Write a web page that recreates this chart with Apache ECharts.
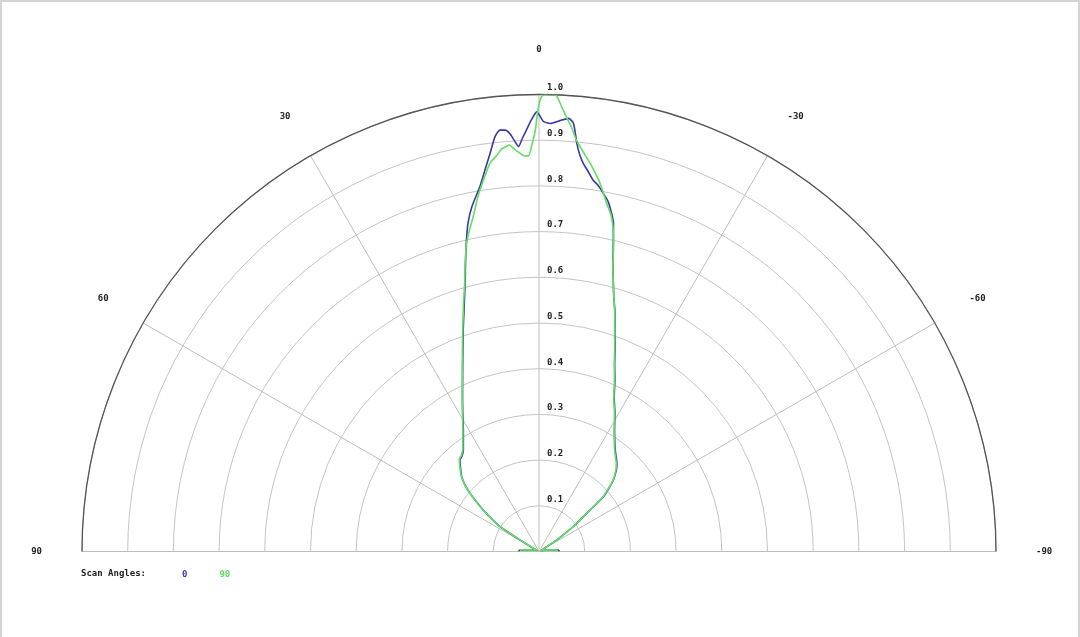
<!DOCTYPE html>
<html>
<head>
<meta charset="utf-8">
<script src="https://cdn.jsdelivr.net/npm/echarts@6/dist/echarts.min.js"></script>
<style>
  html, body { margin: 0; padding: 0; background: #fff; }
  #main { width: 1076px; height: 635px; border: 2px solid #d4d4d4; border-bottom: none; }
</style>
</head>
<body>
<div id="main"></div>
<script>
// scan angle 0 (blue) - angle in degrees (left positive), radius normalised
var angle0 = [-90, -86, -80, -72, -62, -60, -57, -54, -51.3, -49.6, -46.1, -42.5, -40.9, -38.5, -36, -32, -28.8, -26, -23.9, -22, -20.4, -19, -17.7, -16.4, -15.3, -14.4, -13.7, -12.8, -12.1, -11.2, -10.2, -9.3, -8.3, -7.4, -6.5, -5.8, -5.3, -4.6, -3.9, -2.8, -1.5, -0.6, 0.3, 1.0, 1.7, 2.3, 2.9, 3.4, 4.0, 4.6, 5.3, 6.05, 7.0, 8.0, 9.2, 11.0, 12.2, 13.1, 14.2, 15.2, 17, 18.9, 21, 24, 26.5, 28.9, 32.5, 36.7, 39, 40.8, 43, 46, 48, 49.8, 51.5, 53.3, 55.5, 57.5, 58.8, 60.5, 62, 72, 80, 86, 90];
var radius0 = [0.045, 0.042, 0.02, 0.005, 0.005, 0.012, 0.046, 0.093, 0.134, 0.185, 0.226, 0.252, 0.26, 0.27, 0.283, 0.312, 0.345, 0.375, 0.41, 0.442, 0.478, 0.51, 0.547, 0.58, 0.616, 0.65, 0.686, 0.736, 0.757, 0.78, 0.796, 0.81, 0.821, 0.838, 0.855, 0.875, 0.897, 0.94, 0.95, 0.944, 0.937, 0.941, 0.962, 0.945, 0.923, 0.905, 0.887, 0.9, 0.917, 0.925, 0.926, 0.913, 0.878, 0.845, 0.809, 0.769, 0.735, 0.7, 0.655, 0.616, 0.56, 0.512, 0.465, 0.411, 0.375, 0.345, 0.308, 0.277, 0.268, 0.265, 0.252, 0.235, 0.218, 0.198, 0.175, 0.152, 0.125, 0.101, 0.049, 0.012, 0.005, 0.005, 0.02, 0.042, 0.045];

// scan angle 90 (green)
var angle90 = [-90, -85, -80, -72, -62, -60, -57, -54, -51.3, -49.6, -46.1, -42.5, -40.9, -38.5, -36, -32, -28.8, -26, -23.9, -22, -20.4, -19, -17.7, -16.4, -15.3, -14.4, -13.7, -12.8, -12, -11, -9.4, -7.5, -6.3, -5.2, -4.4, -3.6, -2.9, -2.2, -1.4, -0.8, -0.3, 0.1, 0.5, 1.0, 1.5, 2.1, 2.7, 3.5, 4.2, 4.6, 5.3, 6.0, 7.2, 8.5, 9.7, 11.1, 12.2, 13.3, 14.4, 15.4, 17, 18.9, 21, 24, 26.5, 28.9, 32.5, 36.7, 39, 40.8, 43, 46, 48, 49.8, 51.5, 53.3, 55.5, 57.5, 58.8, 60.5, 62, 72, 80, 85, 90];
var radius90 = [0.04, 0.04, 0.02, 0.005, 0.005, 0.012, 0.044, 0.09, 0.132, 0.183, 0.225, 0.25, 0.258, 0.268, 0.281, 0.31, 0.343, 0.373, 0.407, 0.44, 0.475, 0.508, 0.545, 0.58, 0.615, 0.65, 0.69, 0.73, 0.755, 0.776, 0.817, 0.857, 0.88, 0.904, 0.93, 0.953, 0.975, 0.998, 1.002, 1.0, 0.995, 0.97, 0.922, 0.89, 0.866, 0.866, 0.872, 0.882, 0.892, 0.889, 0.885, 0.873, 0.856, 0.822, 0.79, 0.747, 0.72, 0.69, 0.65, 0.612, 0.565, 0.515, 0.468, 0.413, 0.377, 0.347, 0.31, 0.279, 0.27, 0.267, 0.254, 0.236, 0.219, 0.199, 0.176, 0.153, 0.126, 0.102, 0.05, 0.012, 0.005, 0.005, 0.02, 0.04, 0.04];

var seriesNames = ['0', '90'];
var seriesColors = ['#3a3aa6', '#62de62'];

function pairs(r, a) {
    var out = [];
    for (var i = 0; i < r.length; i++) out.push([r[i], a[i]]);
    return out;
}

var font = 'DejaVu Sans Mono';
var myChart = echarts.init(document.getElementById('main'));

var option = {
    animation: false,
    textStyle: { fontFamily: font },
    polar: [
        { center: [537, 549.5], radius: 457 },
        { center: [537, 549.5], radius: 457 }
    ],
    angleAxis: [
        {
            polarIndex: 0,
            type: 'value',
            min: -90,
            max: 90,
            interval: 30,
            startAngle: 0,
            endAngle: 180,
            clockwise: false,
            axisLine: { lineStyle: { color: '#555', width: 1.3 } },
            axisTick: { show: false },
            axisLabel: { margin: 40, color: '#222', fontSize: 9, fontWeight: 'bold', fontFamily: font },
            splitLine: { show: true, lineStyle: { color: '#bdbdbd', width: 1 } }
        },
        {
            polarIndex: 1,
            type: 'value',
            min: 0,
            max: 360,
            startAngle: 90,
            show: false
        }
    ],
    radiusAxis: [
        {
            polarIndex: 0,
            type: 'value',
            min: 0,
            max: 1,
            interval: 0.1,
            axisLine: { show: false },
            axisTick: { show: false },
            axisLabel: { show: false },
            splitLine: { show: true, lineStyle: { color: '#c4c4c4', width: 1 } }
        },
        {
            polarIndex: 1,
            type: 'value',
            min: 0,
            max: 1,
            interval: 0.1,
            axisLine: { show: false },
            axisTick: { show: false },
            splitLine: { show: false },
            axisLabel: {
                margin: -8,
                align: 'left',
                showMinLabel: false,
                verticalAlign: 'bottom',
                padding: [0, 0, 2, 0],
                color: '#222',
                fontSize: 9,
                fontWeight: 'bold',
                fontFamily: font,
                formatter: function (v) { return v.toFixed(1); }
            }
        }
    ],
    legend: {
        left: 169,
        top: 563,
        itemWidth: 0,
        itemHeight: 0,
        itemGap: 26,
        selectedMode: false,
        data: [
            { name: seriesNames[0], textStyle: { color: seriesColors[0] } },
            { name: seriesNames[1], textStyle: { color: seriesColors[1] } }
        ],
        textStyle: { fontSize: 9, fontWeight: 'bold', fontFamily: font }
    },
    graphic: [
        {
            type: 'text',
            left: 79,
            top: 567,
            style: { text: 'Scan Angles:', fontSize: 9, fontWeight: 'bold', fontFamily: font, fill: '#222' }
        }
    ],
    series: [
        {
            name: seriesNames[0],
            type: 'line',
            coordinateSystem: 'polar',
            polarIndex: 0,
            showSymbol: false,
            smooth: 0.2,
            lineStyle: { color: seriesColors[0], width: 1.6 },
            itemStyle: { color: seriesColors[0] },
            data: pairs(radius0, angle0)
        },
        {
            name: seriesNames[1],
            type: 'line',
            coordinateSystem: 'polar',
            polarIndex: 0,
            showSymbol: false,
            smooth: 0.2,
            lineStyle: { color: seriesColors[1], width: 1.6 },
            itemStyle: { color: seriesColors[1] },
            data: pairs(radius90, angle90)
        }
    ]
};

myChart.setOption(option);
</script>
</body>
</html>
